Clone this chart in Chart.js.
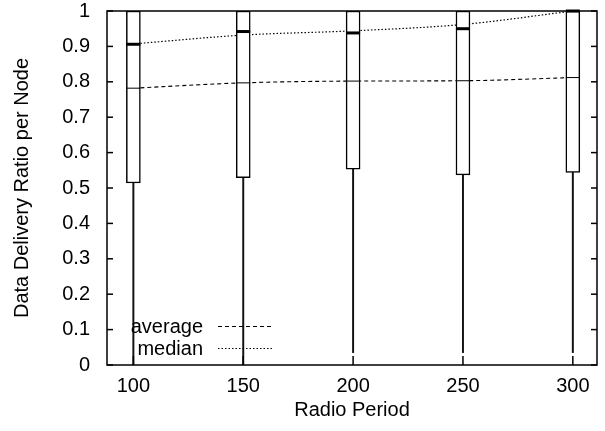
<!DOCTYPE html>
<html>
<head>
<meta charset="utf-8">
<script src="https://cdn.jsdelivr.net/npm/chart.js@4/dist/chart.umd.min.js"></script>
<style>
  html, body { margin: 0; padding: 0; background: #fff; }
  #wrap { width: 605px; height: 431px; }
</style>
</head>
<body>
<div id="wrap"><canvas id="chart" width="605" height="431"></canvas></div>
<script>
// values
const periods     = [100, 150, 200, 250, 300];
const whiskerLow  = [0.0, 0.0, 0.035, 0.035, 0.035];
const boxLow      = [0.514, 0.529, 0.553, 0.537, 0.544];
const boxHigh     = [1.0, 1.0, 1.0, 1.0, 1.0];
const medians     = [0.906, 0.942, 0.938, 0.950, 1.0];
const averages    = [0.782, 0.797, 0.802, 0.803, 0.812];
// the dotted median curve is smoothed, it doesn't go exactly through the box medians
const medianCurve = [0.907, 0.932, 0.944, 0.962, 1.0];
const yTicks      = [0, 0.1, 0.2, 0.3, 0.4, 0.5, 0.6, 0.7, 0.8, 0.9, 1];
const yTickLabels = ['0', '0.1', '0.2', '0.3', '0.4', '0.5', '0.6', '0.7', '0.8', '0.9', '1'];

const BOX_W = 14;
const FONT = 20;

Chart.defaults.font.family = "'Liberation Sans', Arial, sans-serif";
Chart.defaults.color = '#000';

function seg(ctx, x1, y1, x2, y2) {
    ctx.beginPath();
    ctx.moveTo(x1, y1);
    ctx.lineTo(x2, y2);
    ctx.stroke();
}

// median / mean marks in the boxes, frame with inward ticks, and the gnuplot style key
const boxMarks = {
    id: 'boxMarks',
    afterDatasetsDraw(chart) {
        const { ctx, chartArea: a, scales: { x, y } } = chart;
        ctx.save();
        ctx.strokeStyle = '#000';

        periods.forEach((p, i) => {
            const cx = x.getPixelForValue(p);
            ctx.lineWidth = 3;
            seg(ctx, cx - BOX_W / 2, y.getPixelForValue(medians[i]), cx + BOX_W / 2, y.getPixelForValue(medians[i]));
            ctx.lineWidth = 1;
            seg(ctx, cx - BOX_W / 2, y.getPixelForValue(averages[i]), cx + BOX_W / 2, y.getPixelForValue(averages[i]));
        });

        ctx.lineWidth = 1.5;
        ctx.strokeRect(a.left, a.top, a.right - a.left, a.bottom - a.top);

        x.ticks.forEach(t => {
            const px = x.getPixelForValue(t.value);
            seg(ctx, px, a.bottom, px, a.bottom - 9);
        });
        y.ticks.forEach(t => {
            const py = y.getPixelForValue(t.value);
            seg(ctx, a.left, py, a.left + 6, py);
            seg(ctx, a.right, py, a.right - 6, py);
        });

        // key
        const keyItems = chart.data.datasets.filter(d => d.type === 'line');
        ctx.font = FONT + "px 'Liberation Sans', Arial, sans-serif";
        ctx.fillStyle = '#000';
        ctx.textAlign = 'right';
        ctx.textBaseline = 'middle';
        keyItems.forEach((d, i) => {
            const ty = a.bottom - 38 + i * 22;
            ctx.fillText(d.label, a.left + 96, ty);
            ctx.lineWidth = d.borderWidth;
            ctx.setLineDash(d.borderDash);
            seg(ctx, a.left + 111, ty - 0.5, a.left + 165, ty - 0.5);
            ctx.setLineDash([]);
        });
        ctx.restore();
    }
};

new Chart(document.getElementById('chart'), {
    type: 'bar',
    data: {
        datasets: [
            {
                type: 'line',
                label: 'average',
                data: periods.map((p, i) => ({ x: p, y: averages[i] })),
                borderColor: '#000',
                borderWidth: 1.1,
                borderDash: [4, 3],
                pointRadius: 0,
                cubicInterpolationMode: 'monotone',
                order: 3
            },
            {
                type: 'line',
                label: 'median',
                data: periods.map((p, i) => ({ x: p, y: medianCurve[i] })),
                borderColor: '#000',
                borderWidth: 1.2,
                borderDash: [1.5, 2],
                pointRadius: 0,
                cubicInterpolationMode: 'monotone',
                order: 3
            },
            {
                label: 'whisker',
                data: periods.map((p, i) => ({ x: p, y: [whiskerLow[i], boxLow[i]] })),
                backgroundColor: '#111',
                borderWidth: 0,
                barThickness: 1.3,
                grouped: false,
                order: 2
            },
            {
                label: 'box',
                data: periods.map((p, i) => ({ x: p, y: [boxLow[i], boxHigh[i]] })),
                backgroundColor: '#fff',
                borderColor: '#000',
                borderWidth: 1.5,
                borderSkipped: false,
                barThickness: BOX_W,
                grouped: false,
                order: 1
            }
        ]
    },
    options: {
        responsive: false,
        animation: false,
        layout: { padding: { left: 0, right: 8, top: 11, bottom: 0 } },
        plugins: {
            legend: { display: false },
            tooltip: { enabled: false }
        },
        scales: {
            x: {
                type: 'linear',
                min: 88,
                max: 311,
                offset: false,
                afterBuildTicks: s => { s.ticks = periods.map(v => ({ value: v })); },
                grid: { display: false, drawTicks: false, tickLength: 0 },
                border: { display: false },
                ticks: { padding: 9, maxRotation: 0, font: { size: FONT } },
                title: { display: true, text: 'Radio Period', font: { size: FONT }, padding: { top: 0, bottom: 9 } },
                afterFit: s => { s.height = 66; s.paddingLeft = 0; s.paddingRight = 0; }
            },
            y: {
                type: 'linear',
                min: 0,
                max: 1,
                afterBuildTicks: s => { s.ticks = yTicks.map(v => ({ value: v })); },
                grid: { display: false, drawTicks: false, tickLength: 0 },
                border: { display: false },
                ticks: { padding: 17, font: { size: FONT }, callback: (v, i) => yTickLabels[i] },
                title: { display: true, text: 'Data Delivery Ratio per Node', font: { size: FONT }, padding: { top: 10, bottom: 0 } },
                afterFit: s => { s.width = 107; s.paddingTop = 0; s.paddingBottom = 0; }
            }
        }
    },
    plugins: [boxMarks]
});
</script>
</body>
</html>
